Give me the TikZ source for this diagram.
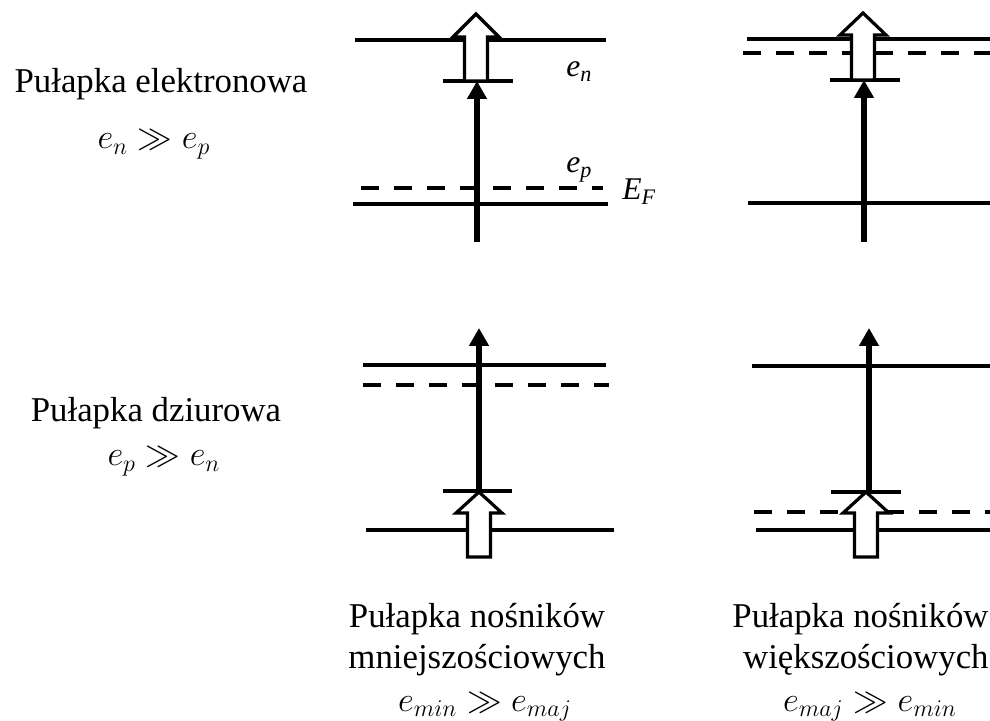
\documentclass[tikz,border=0pt]{standalone}
\usepackage{fontspec}
\setmainfont{Liberation Serif}
\usepackage{amsmath,amssymb}
\usepackage{tikz}
\usetikzlibrary{arrows.meta,calc,positioning}
\tikzset{
  level line/.style={line width=2.2pt},
  fermi line/.style={line width=2.2pt,dash pattern=on 9pt off 7.5pt},
  jump/.style={line width=3pt,-{Triangle[length=9pt,width=9.5pt]}},
  hollow arrow/.style={draw,fill=white,line width=1.6pt,line join=miter},
  title text/.style={font=\fontsize{17.4}{21}\selectfont,anchor=base,inner sep=0pt},
  ratio text/.style={font=\fontsize{18}{21}\selectfont,anchor=base,inner sep=0pt},
  level label/.style={font=\fontsize{15.8}{19}\selectfont\itshape,anchor=base west,inner sep=0pt}
}
\newcommand{\HollowArrow}[3]{%
  \draw[hollow arrow] ($(#1)+(-11.5,0)$) -- ($(#2)+(-11.5,#3)$) -- ($(#2)+(-23,#3)$)
    -- (#2) -- ($(#2)+(23,#3)$) -- ($(#2)+(11.5,#3)$) -- ($(#1)+(11.5,0)$) -- cycle;}

\begin{document}
\begin{tikzpicture}[x=0.5pt,y=-0.5pt,line cap=butt]
  \useasboundingbox (0,0) rectangle (990,721);

  % electron trap, minority carriers
  \coordinate (a-top-l) at (355,40);  \coordinate (a-top-r) at (606,40);
  \coordinate (a-trap-l) at (443,81); \coordinate (a-trap-r) at (513,81);
  \coordinate (a-ef-l) at (361,188);  \coordinate (a-ef-r) at (603,188);
  \coordinate (a-bot-l) at (353,204); \coordinate (a-bot-r) at (608,204);
  \coordinate (a-from) at (477,242);  \coordinate (a-to) at (477,81);
  \coordinate (a-base) at (476,81);   \coordinate (a-tip) at (476,14);

  % electron trap, majority carriers
  \coordinate (b-top-l) at (747,39);  \coordinate (b-top-r) at (990,39);
  \coordinate (b-ef-l) at (743,53);   \coordinate (b-ef-r) at (990,53);
  \coordinate (b-trap-l) at (830,80); \coordinate (b-trap-r) at (900,80);
  \coordinate (b-bot-l) at (748,203); \coordinate (b-bot-r) at (990,203);
  \coordinate (b-from) at (864,242);  \coordinate (b-to) at (864,80);
  \coordinate (b-base) at (863,80);   \coordinate (b-tip) at (863,13);

  % hole trap, minority carriers
  \coordinate (c-top-l) at (363,365);  \coordinate (c-top-r) at (606,365);
  \coordinate (c-ef-l) at (363,385);   \coordinate (c-ef-r) at (609,385);
  \coordinate (c-trap-l) at (443,491); \coordinate (c-trap-r) at (512,491);
  \coordinate (c-bot-l) at (366,530);  \coordinate (c-bot-r) at (614,530);
  \coordinate (c-from) at (479,491);   \coordinate (c-to) at (479,328);
  \coordinate (c-base) at (479,557);   \coordinate (c-tip) at (479,492);

  % hole trap, majority carriers
  \coordinate (d-top-l) at (752,366);  \coordinate (d-top-r) at (990,366);
  \coordinate (d-trap-l) at (831,492); \coordinate (d-trap-r) at (901,492);
  \coordinate (d-ef-l) at (754,512);   \coordinate (d-ef-r) at (990,512);
  \coordinate (d-bot-l) at (756,530);  \coordinate (d-bot-r) at (990,530);
  \coordinate (d-from) at (869,492);   \coordinate (d-to) at (869,328);
  \coordinate (d-base) at (866,557);   \coordinate (d-tip) at (866,492);

  \foreach \p in {a,b,c,d} {
    \draw[level line] (\p-top-l) -- (\p-top-r);
    \draw[level line] (\p-trap-l) -- (\p-trap-r);
    \draw[level line] (\p-bot-l) -- (\p-bot-r);
    \draw[fermi line] (\p-ef-l) -- (\p-ef-r);
    \draw[jump] (\p-from) -- (\p-to);
  }
  \HollowArrow{a-base}{a-tip}{23}
  \HollowArrow{b-base}{b-tip}{22}
  \HollowArrow{c-base}{c-tip}{21}
  \HollowArrow{d-base}{d-tip}{21}

  \node[level label] (en) at (566,77) {e\textsubscript{n}};
  \node[level label] (ep) at (566,173) {e\textsubscript{p}};
  \node[level label] (ef) at (622,200) {E\textsubscript{F}};

  \node[title text] (el) at (161,93) {Pułapka elektronowa};
  \node[ratio text] (elm) at (154,149) {$e_n \gg e_p$};
  \node[title text] (ho) at (156,422) {Pułapka dziurowa};
  \node[ratio text] (hom) at (164,466) {$e_p \gg e_n$};

  \node[title text] (mi1) at (477,627) {Pułapka nośników};
  \node[title text] (mi2) at (477,668) {mniejszościowych};
  \node[ratio text] (mim) at (485,711) {$e_{min} \gg e_{maj}$};
  \node[title text,anchor=base east] (ma1) at (989,627) {Pułapka nośników};
  \node[title text,anchor=base east] (ma2) at (989,668) {większościowych};
  \node[ratio text] (mam) at (870,711) {$e_{maj} \gg e_{min}$};
\end{tikzpicture}
\end{document}
